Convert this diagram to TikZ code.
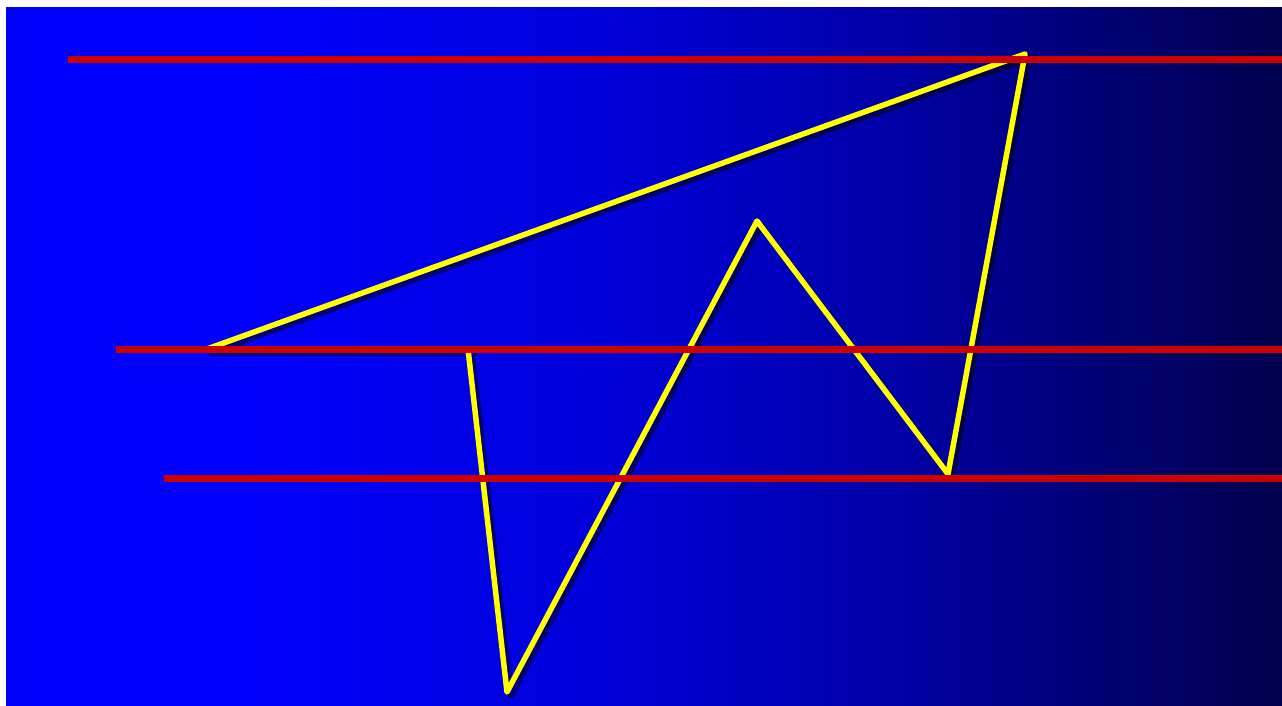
\documentclass[tikz,border=0pt]{standalone}
\usetikzlibrary{calc}
\definecolor{bgA}{RGB}{0,0,255}
\definecolor{bgB}{RGB}{0,0,212}
\definecolor{bgC}{RGB}{0,0,165}
\definecolor{bgD}{RGB}{0,0,118}
\definecolor{bgE}{RGB}{0,0,78}
\definecolor{redline}{RGB}{204,0,0}
\definecolor{yel}{RGB}{255,255,0}
\pgfdeclarehorizontalshading{bgshade}{100bp}{color(0bp)=(bgA); color(25bp)=(bgA); color(34bp)=(bgA); color(50bp)=(bgB); color(60bp)=(bgC); color(67.5bp)=(bgD); color(75bp)=(bgE); color(100bp)=(bgE)}
\tikzset{
  level/.style={draw=redline, line width=7pt},
  zig/.style={draw=yel, line width=5.5pt, line join=round},
  zigshadow/.style={draw=black, opacity=0.5, line width=5.5pt, line join=round}
}
\begin{document}
\begin{tikzpicture}[x=1pt,y=-1pt]
\useasboundingbox (0,0) rectangle (1282,705);
\fill[white] (0,0) rectangle (1282,705);
\shade[shading=bgshade] (6,7) rectangle (1282,705);
% points
\coordinate (p1) at (468,349);
\coordinate (p2) at (207,349);
\coordinate (p3) at (1025,54);
\coordinate (p4) at (948,474);
\coordinate (p5) at (757,221);
\coordinate (p6) at (507,692);
% shadow
\begin{scope}[transform canvas={xshift=4pt,yshift=-4pt}]
\draw[zigshadow] (p1) -- (p2) -- (p3) -- (p4) -- (p5) -- (p6) -- cycle;
\end{scope}
\draw[zig] (p1) -- (p2) -- (p3) -- (p4) -- (p5) -- (p6) -- cycle;
% red lines
\coordinate (a1) at (68,59);
\coordinate (a2) at (1282,59);
\coordinate (b1) at (116,349);
\coordinate (b2) at (1282,349);
\coordinate (c1) at (164,478);
\coordinate (c2) at (1282,478);
\draw[level] (a1) -- (a2);
\draw[level] (b1) -- (b2);
\draw[level] (c1) -- (c2);
\end{tikzpicture}
\end{document}
